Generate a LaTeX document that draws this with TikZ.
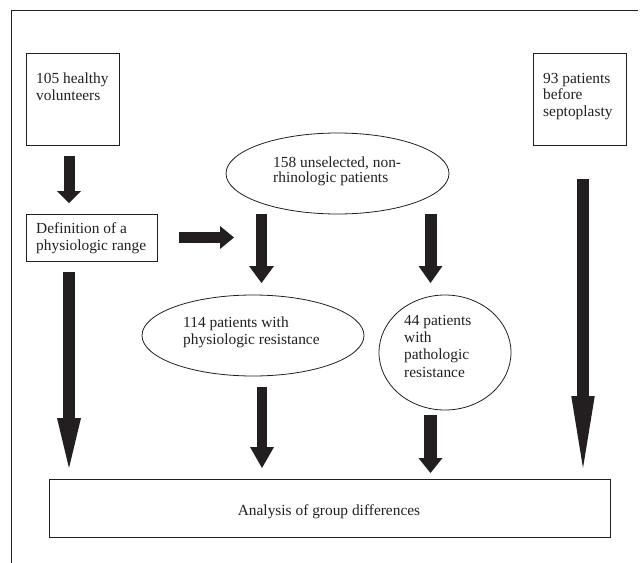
\documentclass[tikz,border=0pt]{standalone}
\usepackage{fontspec}
\setmainfont{Liberation Serif}
\usetikzlibrary{arrows.meta,shapes.geometric}
\definecolor{ink}{HTML}{231F20}
\tikzset{
  x=1pt, y=-1pt,
  shapeline/.style={draw=ink, line width=0.8pt, inner sep=0pt},
  boxnode/.style={shapeline, rectangle},
  ellnode/.style={shapeline, ellipse},
  txt/.style={inner sep=0pt, anchor=north west, align=left, text=ink,
    font=\fontsize{15.4}{17}\selectfont},
  blockarrow/.style n args={3}{draw=ink, line width=#1, line cap=butt,
    -{Triangle[width=#2, length=#3, line width=0pt]}},
  frameline/.style={draw=ink, line width=1pt}
}
\newcommand{\mystr}{\strut}
\begin{document}
\begin{tikzpicture}
\useasboundingbox (0,0) rectangle (641,563);
% frame
\coordinate (fTL) at (11.5,10);
\coordinate (fTR) at (638,10);
\coordinate (fBL) at (11.5,563);
\draw[frameline] (fTR) -- (fTL) -- (fBL);

% shapes
\node[boxnode, minimum width=93pt, minimum height=92pt] (b105) at (72.5,99) {};
\node[boxnode, minimum width=93pt, minimum height=92pt] (b93) at (579.5,99) {};
\node[boxnode, minimum width=131pt, minimum height=47pt] (bdef) at (91.5,237.5) {};
\node[ellnode, minimum width=223pt, minimum height=81pt] (e158) at (337.5,173.5) {};
\node[ellnode, minimum width=222pt, minimum height=81pt] (e114) at (253,335.5) {};
\node[ellnode, minimum width=132pt, minimum height=115pt] (c44) at (445,352.5) {};
\node[boxnode, minimum width=561pt, minimum height=58pt] (banal) at (329.5,508) {};

% texts (first baseline minus strut height)
\node[txt] (t105) at (36,71.1) {\mystr 105 healthy\\\mystr volunteers};
\node[txt, font=\fontsize{15.4}{16.5}\selectfont] (t93) at (543,71.4) {\mystr 93 patients\\\mystr before\\\mystr septoplasty};
\node[txt] (tdef) at (36,221.1) {\mystr Definition of a\\\mystr physiologic range};
\node[txt, font=\fontsize{15.4}{15.5}\selectfont] (t158) at (273,156.2) {\mystr 158 unselected, non-\\\mystr rhinologic patients};
\node[txt] (t114) at (183,315) {\mystr 114 patients with\\\mystr physiologic resistance};
\node[txt, font=\fontsize{15.4}{17.4}\selectfont] (t44) at (404,312.8) {\mystr 44 patients\\\mystr with\\\mystr pathologic\\\mystr resistance};
\node[inner sep=0pt, anchor=base, text=ink, font=\fontsize{15.4}{17}\selectfont] (tanal) at (329,515) {Analysis of group differences};

% arrow end points
\coordinate (a1s) at (69,156);    \coordinate (a1e) at (69,203);
\coordinate (a2s) at (179,237.5); \coordinate (a2e) at (234,237.5);
\coordinate (a3s) at (261.5,214); \coordinate (a3e) at (261.5,283);
\coordinate (a4s) at (430.5,214); \coordinate (a4e) at (430.5,283);
\coordinate (a5s) at (69,272);    \coordinate (a5e) at (69,468);
\coordinate (a6s) at (262,387);   \coordinate (a6e) at (262,468);
\coordinate (a7s) at (430.5,415); \coordinate (a7e) at (430.5,473);
\coordinate (a8s) at (583,179);   \coordinate (a8e) at (583,468);

\draw[blockarrow={11pt}{24pt}{12pt}] (a1s) -- (a1e);
\draw[blockarrow={11pt}{23pt}{14pt}] (a2s) -- (a2e);
\draw[blockarrow={11pt}{25pt}{17pt}] (a3s) -- (a3e);
\draw[blockarrow={12pt}{24pt}{17pt}] (a4s) -- (a4e);
\draw[blockarrow={11.5pt}{24pt}{50pt}] (a5s) -- (a5e);
\draw[blockarrow={10.5pt}{24pt}{21pt}] (a6s) -- (a6e);
\draw[blockarrow={12.5pt}{24pt}{15pt}] (a7s) -- (a7e);
\draw[blockarrow={12pt}{23.5pt}{72pt}] (a8s) -- (a8e);
\end{tikzpicture}
\end{document}
